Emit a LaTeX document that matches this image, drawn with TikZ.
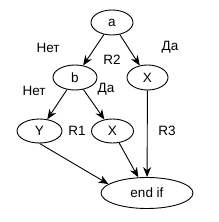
\documentclass[tikz,border=0pt]{standalone}
\usepackage{fontspec}
\setmainfont{Liberation Sans}
\usepackage{tikz}
\usetikzlibrary{
    shapes.geometric,
    arrows.meta
}
\tikzset{
    % Base style for all ellipse nodes
    branch base/.style={
        font=\fontsize{13.5}{15}\selectfont,
        ellipse,
        draw=black,
        line width=0.9pt,
        inner sep=0pt,
        minimum width=42pt,
        minimum height=25pt,
    },
    % Small condition / action ellipses
    branch/.style={
        branch base,
    },
    % Wide join ellipse
    joinbox/.style={
        branch base,
        minimum width=92pt,
        minimum height=31pt,
    },
    % Arrow style - filled stealth tip
    arrow/.style={
        -{Stealth[length=10pt, width=8pt]},
        line width=0.9pt,
        draw=black,
    },
    % Label style for branches and regions
    edge label/.style={
        font=\fontsize{13.5}{15}\selectfont,
        inner sep=0pt,
    },
}
\begin{document}
\begin{tikzpicture}[x=1pt, y=-1pt]
    \useasboundingbox (0,0) rectangle (219,222);
    \node (a) [branch] at (112,22.5) {a};
    \node (b) [branch, minimum width=44pt] at (75,77.5) {b};
    \node (x1) [branch, minimum width=41pt] at (147.5,77.5) {X};
    \node (y) [branch, minimum width=45pt, minimum height=24pt] at (39.5,131) {Y};
    \node (x2) [branch, minimum height=24pt] at (112.5,131) {X};
    \node (endif) [joinbox] at (147,193) {end if};

    \node (no_a) [edge label] at (48,48) {Нет};
    \node (yes_a) [edge label] at (170,47) {Да};
    \node (r2) [edge label] at (112,60) {R2};
    \node (no_b) [edge label] at (34,91) {Нет};
    \node (yes_b) [edge label] at (106,89) {Да};
    \node (r1) [edge label] at (77,131) {R1};
    \node (r3) [edge label] at (167,131) {R3};

    \draw [arrow] (a) -- (b);
    \draw [arrow] (a) -- (x1);
    \draw [arrow] (b) -- (y);
    \draw [arrow] (b) -- (x2);
    \draw [arrow] (x1) -- (endif);
    \draw [arrow] (x2) -- (endif);
    \draw [arrow] (y.south) -- (endif.167);
\end{tikzpicture}
\end{document}
